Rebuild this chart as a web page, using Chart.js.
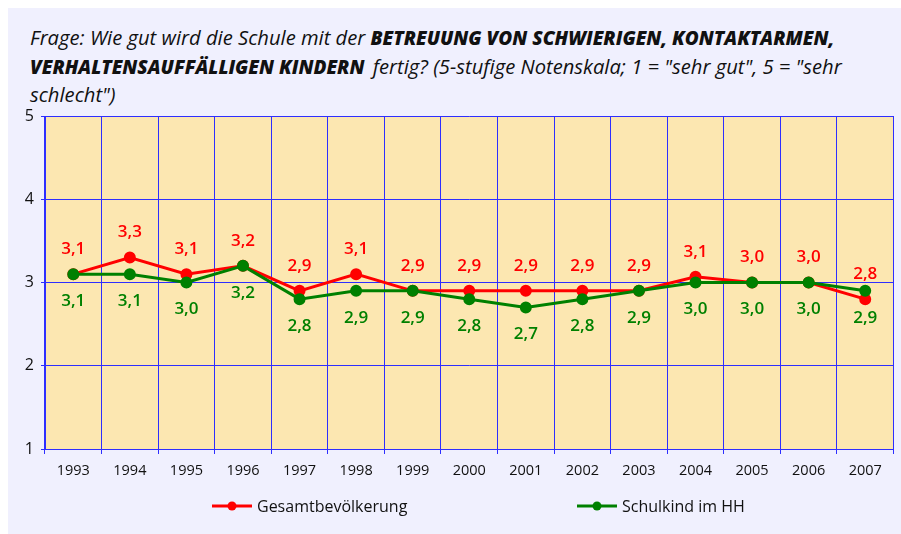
<!DOCTYPE html>
<html>
<head>
<meta charset="utf-8">
<script src="https://cdn.jsdelivr.net/npm/chart.js@4/dist/chart.umd.min.js"></script>
<style>
  html, body { margin: 0; padding: 0; background: #fff; }
  #wrap { position: relative; width: 901px; height: 534px; overflow: hidden; }
  #panel { position: absolute; left: 8px; top: 8px; width: 893px; height: 526px; background: #F0F0FE; }
  #title {
    position: absolute; left: 30px; top: 24px; width: 870px;
    font-family: "Open Sans", sans-serif; font-style: italic; font-size: 20.2px;
    line-height: 27.5px; color: #111; white-space: nowrap;
  }
  #title b { font-weight: 800; font-size: 19px; }
  .gap { display: inline-block; width: 3px; }
  #c { position: absolute; left: 0; top: 0; }
</style>
</head>
<body>
<div id="wrap">
  <div id="panel"></div>
  <div id="title">Frage: Wie gut wird die Schule mit der <b>BETREUUNG VON SCHWIERIGEN, KONTAKTARMEN,</b><br><b>VERHALTENSAUFFÄLLIGEN KINDERN</b> <span class="gap"></span>fertig? (5-stufige Notenskala; 1 = "sehr gut", 5 = "sehr<br>schlecht")</div>
  <canvas id="c" width="901" height="534"></canvas>
</div>
<script>
const years = ["1993", "1994", "1995", "1996", "1997", "1998", "1999", "2000",
  "2001", "2002", "2003", "2004", "2005", "2006", "2007"];
const gesamt = [3.1, 3.3, 3.1, 3.2, 2.9, 3.1, 2.9, 2.9, 2.9, 2.9, 2.9, 3.07, 3.0, 3.0, 2.8];
const schulkind = [3.1, 3.1, 3.0, 3.2, 2.8, 2.9, 2.9, 2.8, 2.7, 2.8, 2.9, 3.0, 3.0, 3.0, 2.9];
const yTicks = [1, 2, 3, 4, 5];

const gridBlue = "#2E2EFF";

const plotBg = {
  id: "plotBg",
  beforeDraw(chart) {
    const { ctx, chartArea: a } = chart;
    ctx.save();
    ctx.fillStyle = "#FCE7B1";
    ctx.fillRect(a.left, a.top, a.right - a.left, a.bottom - a.top);
    ctx.restore();
  },
};

// value labels: first series above, second below
const valueLabels = {
  id: "valueLabels",
  afterDatasetsDraw(chart) {
    const { ctx } = chart;
    ctx.save();
    ctx.font = "600 17px 'Open Sans', sans-serif";
    ctx.textAlign = "center";
    ctx.textBaseline = "middle";
    chart.data.datasets.forEach((ds, i) => {
      const meta = chart.getDatasetMeta(i);
      ctx.fillStyle = ds.borderColor;
      meta.data.forEach((pt, j) => {
        const txt = ds.data[j].toFixed(1).replace(".", ",");
        const dy = ds.labelPos === "above" ? -25 : 27;
        ctx.fillText(txt, pt.x, pt.y + dy);
      });
    });
    ctx.restore();
  },
};

const lineLegend = {
  id: "lineLegend",
  afterDraw(chart) {
    const { ctx } = chart;
    const items = [
      { ds: chart.data.datasets[0], x: 212 },
      { ds: chart.data.datasets[1], x: 577 },
    ];
    const y = 506;
    ctx.save();
    items.forEach(({ ds, x }) => {
      ctx.strokeStyle = ds.borderColor;
      ctx.lineWidth = 3;
      ctx.beginPath();
      ctx.moveTo(x, y);
      ctx.lineTo(x + 40, y);
      ctx.stroke();
      ctx.fillStyle = ds.borderColor;
      ctx.beginPath();
      ctx.arc(x + 20, y, 4.5, 0, Math.PI * 2);
      ctx.fill();
      ctx.fillStyle = "#111";
      ctx.font = "16px 'Open Sans', sans-serif";
      ctx.textBaseline = "middle";
      ctx.fillText(ds.label, x + 45, y + 1);
    });
    ctx.restore();
  },
};

new Chart(document.getElementById("c"), {
  type: "line",
  data: {
    labels: years,
    datasets: [
      {
        label: "Gesamtbevölkerung",
        data: gesamt,
        borderColor: "#FF0000",
        backgroundColor: "#FF0000",
        borderWidth: 3,
        pointRadius: 4.5,
        pointHoverRadius: 4.5,
        tension: 0,
        order: 1,
        labelPos: "above",
      },
      {
        label: "Schulkind im HH",
        data: schulkind,
        borderColor: "#008000",
        backgroundColor: "#008000",
        borderWidth: 3,
        pointRadius: 4.5,
        pointHoverRadius: 4.5,
        tension: 0,
        order: 0,
        labelPos: "below",
      },
    ],
  },
  options: {
    responsive: false,
    animation: false,
    events: [],
    layout: { padding: { top: 116, right: 4, left: 0, bottom: 0 } },
    plugins: {
      legend: { display: false },
      title: { display: false },
      tooltip: { enabled: false },
    },
    scales: {
      x: {
        offset: true,
        grid: {
          offset: true,
          color: gridBlue,
          lineWidth: 1,
          tickLength: 5,
          drawTicks: true,
        },
        border: { color: gridBlue, width: 1 },
        ticks: {
          color: "#111",
          font: { family: "'Open Sans', sans-serif", size: 14.5 },
          padding: 8,
          maxRotation: 0,
          autoSkip: false,
        },
        afterFit(scale) { scale.height = 85; },
      },
      y: {
        min: 1,
        max: 5,
        afterBuildTicks(scale) { scale.ticks = yTicks.map((v) => ({ value: v })); },
        grid: { color: gridBlue, lineWidth: 1, tickLength: 4 },
        border: { color: gridBlue, width: 1 },
        ticks: {
          color: "#111",
          font: { family: "'Open Sans', sans-serif", size: 16 },
          padding: 7,
        },
        afterFit(scale) { scale.width = 45; },
      },
    },
  },
  plugins: [plotBg, valueLabels, lineLegend],
});
</script>
</body>
</html>
